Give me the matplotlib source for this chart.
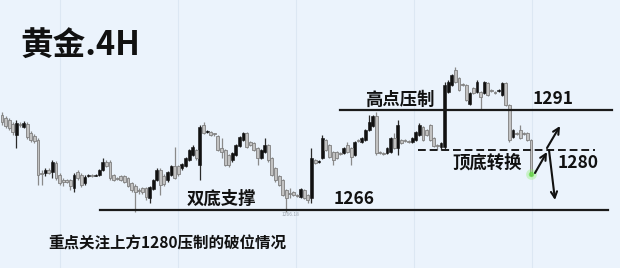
import matplotlib
matplotlib.use("Agg")
import matplotlib.pyplot as plt
import numpy as np

plt.rcParams['font.family'] = ['Noto Sans CJK SC', 'DejaVu Sans']

# ---- data (gold 4H candles) ----
opens = [1289.75, 1289.0, 1288.5, 1287.5, 1284.75, 1287.5, 1286.75, 1287.5, 1285.25, 1284.5,
         1283.5, 1275.25, 1275.25, 1276.0, 1275.5, 1277.75, 1274.75, 1273.5, 1273.5, 1273.5,
         1271.5, 1275.5, 1274.75, 1272.75, 1274.5, 1274.75, 1274.5, 1274.75, 1276.0, 1278.0,
         1278.0, 1274.75, 1274.0, 1274.5, 1274.5, 1274.0, 1272.75, 1272.0, 1271.0, 1271.5,
         1271.5, 1269.0, 1271.25, 1273.5, 1276.0, 1274.5, 1273.5, 1274.75, 1277.0, 1277.0,
         1276.5, 1277.0, 1278.5, 1279.75, 1281.0, 1277.25, 1287.25, 1285.5, 1285.5, 1285.0,
         1284.5, 1281.5, 1281.0, 1279.75, 1278.5, 1279.75, 1282.0, 1283.5, 1285.25, 1283.0,
         1282.75, 1281.5, 1279.0, 1280.5, 1282.25, 1279.0, 1276.5, 1274.5, 1273.5, 1271.0,
         1270.25, 1270.5, 1269.75, 1269.25, 1271.0, 1269.75, 1269.0, 1278.5, 1278.0, 1279.0,
         1283.5, 1282.25, 1280.5, 1280.5, 1280.25, 1280.25, 1282.25, 1281.5, 1279.75, 1283.5,
         1283.0, 1283.5, 1286.0, 1287.0, 1289.5, 1280.5, 1280.25, 1280.25, 1280.5, 1284.0,
         1281.5, 1283.5, 1283.5, 1283.25, 1283.0, 1283.5, 1284.75, 1286.75, 1286.0, 1287.25,
         1284.0, 1282.25, 1281.75, 1281.75, 1295.5, 1297.25, 1301.0, 1299.0, 1297.5, 1297.25,
         1292.5, 1296.5, 1295.5, 1295.5, 1295.25, 1297.75, 1296.0, 1295.5, 1295.75, 1294.75,
         1297.75, 1292.25, 1284.25, 1285.25, 1286.0, 1285.25, 1285.25, 1283.5]
closes = [1288.0, 1287.0, 1286.5, 1285.5, 1287.75, 1287.25, 1287.75, 1284.25, 1283.5, 1283.25,
          1274.75, 1275.0, 1276.0, 1275.25, 1278.0, 1274.0, 1272.75, 1273.0, 1273.0, 1272.0,
          1274.75, 1274.0, 1272.25, 1274.25, 1274.75, 1274.5, 1274.75, 1276.0, 1278.0, 1277.0,
          1274.0, 1273.5, 1273.75, 1273.5, 1273.0, 1272.0, 1271.0, 1270.5, 1270.75, 1270.5,
          1269.25, 1271.75, 1273.5, 1276.0, 1272.25, 1272.5, 1275.5, 1277.0, 1274.0, 1275.0,
          1277.5, 1279.0, 1281.0, 1281.75, 1279.0, 1286.75, 1285.25, 1285.75, 1284.75, 1284.9,
          1281.0, 1280.5, 1277.25, 1277.25, 1280.25, 1282.25, 1284.25, 1285.25, 1281.75, 1282.25,
          1281.0, 1279.0, 1281.0, 1282.25, 1278.5, 1274.75, 1273.5, 1272.25, 1269.75, 1269.0,
          1270.0, 1269.75, 1269.5, 1271.25, 1269.0, 1268.5, 1279.0, 1277.75, 1278.25, 1284.0,
          1281.0, 1279.25, 1278.5, 1279.0, 1280.0, 1281.5, 1280.5, 1279.25, 1283.0, 1283.25,
          1284.0, 1286.0, 1288.0, 1289.5, 1280.25, 1280.25, 1280.0, 1281.5, 1284.0, 1281.5,
          1287.25, 1282.75, 1283.25, 1283.0, 1284.0, 1285.5, 1287.25, 1283.5, 1284.75, 1283.5,
          1282.0, 1282.0, 1282.75, 1297.25, 1298.0, 1299.75, 1298.0, 1296.0, 1297.25, 1293.5,
          1295.25, 1295.25, 1298.0, 1294.25, 1298.0, 1294.75, 1295.75, 1295.25, 1296.0, 1297.75,
          1292.25, 1283.5, 1286.0, 1285.0, 1284.0, 1285.0, 1283.5, 1274.75]
highs = [1290.5, 1289.5, 1289.0, 1288.0, 1288.5, 1288.0, 1288.25, 1288.0, 1285.75, 1285.0,
         1284.0, 1276.0, 1276.5, 1276.5, 1278.5, 1278.25, 1275.25, 1274.0, 1273.75, 1273.75,
         1275.25, 1276.0, 1275.25, 1274.75, 1275.0, 1275.0, 1275.0, 1276.25, 1279.0, 1278.5,
         1278.5, 1275.0, 1274.25, 1274.75, 1274.75, 1274.25, 1273.0, 1272.5, 1271.5, 1271.75,
         1271.75, 1272.0, 1273.75, 1276.5, 1276.5, 1275.0, 1275.75, 1277.25, 1281.75, 1277.25,
         1277.75, 1279.25, 1281.25, 1282.25, 1281.25, 1287.25, 1288.0, 1286.0, 1285.75, 1285.25,
         1284.75, 1284.0, 1281.25, 1280.0, 1280.5, 1282.5, 1284.5, 1285.5, 1285.5, 1283.25,
         1283.0, 1281.75, 1281.25, 1284.0, 1282.5, 1279.25, 1276.75, 1274.75, 1273.75, 1271.25,
         1271.5, 1270.75, 1270.0, 1271.5, 1271.25, 1270.0, 1281.5, 1278.75, 1278.5, 1284.75,
         1283.75, 1282.5, 1280.75, 1280.75, 1280.5, 1281.75, 1283.0, 1281.75, 1283.25, 1283.75,
         1284.25, 1286.25, 1289.75, 1289.75, 1290.5, 1280.75, 1280.5, 1281.75, 1284.25, 1285.25,
         1288.5, 1283.75, 1283.75, 1283.5, 1284.25, 1285.75, 1287.75, 1287.0, 1286.25, 1287.5,
         1284.25, 1282.5, 1283.0, 1298.0, 1298.5, 1300.0, 1301.75, 1299.25, 1297.75, 1297.5,
         1295.5, 1296.75, 1298.5, 1295.75, 1298.25, 1298.0, 1296.25, 1295.75, 1296.25, 1298.0,
         1298.0, 1292.5, 1286.25, 1285.5, 1287.25, 1285.5, 1285.5, 1283.75]
lows = [1287.25, 1286.5, 1286.0, 1284.75, 1281.5, 1286.75, 1286.5, 1283.75, 1283.0, 1282.75,
        1272.25, 1272.25, 1274.5, 1275.0, 1274.0, 1273.5, 1272.25, 1272.0, 1272.75, 1271.0,
        1270.5, 1273.5, 1271.75, 1272.25, 1274.25, 1274.25, 1274.5, 1274.5, 1275.75, 1276.75,
        1273.5, 1273.25, 1273.5, 1273.25, 1272.75, 1271.75, 1270.5, 1265.5, 1270.0, 1270.0,
        1268.5, 1267.75, 1271.0, 1273.25, 1269.75, 1272.0, 1273.0, 1274.5, 1273.75, 1274.5,
        1276.0, 1276.75, 1278.25, 1279.5, 1278.5, 1273.5, 1285.0, 1285.25, 1284.5, 1284.5,
        1280.75, 1279.0, 1277.0, 1276.75, 1278.0, 1279.5, 1281.75, 1283.25, 1281.5, 1282.0,
        1280.75, 1277.25, 1278.75, 1280.25, 1278.0, 1274.5, 1273.0, 1272.0, 1269.5, 1265.5,
        1269.0, 1269.5, 1269.25, 1269.0, 1268.75, 1267.75, 1267.75, 1277.5, 1277.75, 1278.75,
        1280.75, 1279.0, 1277.25, 1278.75, 1279.75, 1280.0, 1280.25, 1277.25, 1279.5, 1283.0,
        1282.75, 1283.25, 1285.75, 1286.75, 1279.75, 1280.0, 1279.75, 1280.0, 1280.25, 1281.25,
        1279.75, 1282.5, 1283.0, 1282.75, 1282.75, 1283.25, 1284.5, 1283.25, 1284.5, 1283.25,
        1281.75, 1281.0, 1281.0, 1281.0, 1295.25, 1297.0, 1297.75, 1295.75, 1297.0, 1293.25,
        1292.25, 1295.0, 1295.25, 1291.0, 1295.0, 1294.5, 1295.5, 1295.0, 1295.5, 1294.5,
        1292.0, 1283.0, 1284.0, 1284.75, 1283.75, 1284.75, 1283.25, 1274.5]

support_level = 1266      # 双底支撑 1266
resistance_level = 1291   # 高点压制 1291
flip_level = 1281         # 顶底转换 1280 (dashed)

title_text = "黄金.4H"
label_high = "高点压制"
label_high_val = "1291"
label_flip = "顶底转换"
label_flip_val = "1280"
label_support = "双底支撑"
label_support_val = "1266"
low_price_tag = "1266.18"
note_text = "重点关注上方1280压制的破位情况"

# ---- layout ----
W, H = 620, 268
bg = '#ebf3fc'
fig = plt.figure(figsize=(W / 100, H / 100), dpi=100)
fig.patch.set_facecolor(bg)
ax = fig.add_axes([0, 0, 1, 1])
ax.set_facecolor(bg)
for s in ax.spines.values():
    s.set_visible(False)
ax.set_xticks([])
ax.set_yticks([])

n = len(opens)
x0px, x1px = 2.0, 531.0
step = (x1px - x0px) / (n - 1)
ax.set_xlim(-x0px / step, (W - x0px) / step)
ax.set_ylim(1251.5, 1318.5)

# faint vertical grid
for gx in [60, 178, 296, 414, 532]:
    ax.axvline((gx - x0px) / step, color='#dce7f3', lw=0.8, zorder=0)

idx = np.arange(n)
o = np.array(opens); c = np.array(closes); h = np.array(highs); l = np.array(lows)
bull = c >= o
bear_face, bear_edge = '#c2c2c2', '#7f7f7f'
bull_face = '#111111'

ax.vlines(idx[bull], l[bull], h[bull], color='#2a2a2a', lw=0.9, zorder=2)
ax.vlines(idx[~bull], l[~bull], h[~bull], color='#8a8a8a', lw=0.9, zorder=2)
body_lo = np.minimum(o, c)
body_h = np.maximum(np.abs(c - o), 0.35)
ax.bar(idx[bull], body_h[bull], bottom=body_lo[bull], width=0.8,
       color=bull_face, edgecolor=bull_face, lw=0.4, zorder=3)
ax.bar(idx[~bull], body_h[~bull], bottom=body_lo[~bull], width=0.8,
       color=bear_face, edgecolor=bear_edge, lw=0.6, zorder=3)

# level lines
ax.axhline(support_level, xmin=100 / W, xmax=608 / W, color='#1a1a1a', lw=1.6, zorder=4)
ax.axhline(resistance_level, xmin=340 / W, xmax=612 / W, color='#1a1a1a', lw=1.6, zorder=4)
ax.axhline(flip_level, xmin=418 / W, xmax=595 / W, color='#1a1a1a', lw=1.4,
           linestyle=(0, (4, 2)), zorder=4)

# texts
def fx(p):
    return p / W

def fy(p):
    return 1 - p / H

fig.text(fx(20), fy(45), title_text, fontsize=23.5, fontweight='bold', color='#111111',
         va='center', ha='left')
kw = dict(fontsize=12.5, fontweight='bold', color='#111111', va='center', ha='left')
fig.text(fx(365), fy(100), label_high, **kw)
fig.text(fx(533), fy(99), label_high_val, **kw)
fig.text(fx(452), fy(163), label_flip, **kw)
fig.text(fx(558), fy(163), label_flip_val, **kw)
fig.text(fx(187), fy(199), label_support, **kw)
fig.text(fx(334), fy(199), label_support_val, **kw)
fig.text(fx(282), fy(215), low_price_tag, fontsize=3.5, color='#9aa3ad', va='center', ha='left')
fig.text(fx(48), fy(244), note_text, fontsize=11.2, fontweight='bold', color='#111111',
         va='center', ha='left')

# green glow at the last candle's low
ax.scatter([n - 1], [l[-1] + 0.5], s=60, color='#8cf06a', alpha=0.35, zorder=5, lw=0)
ax.scatter([n - 1], [l[-1] + 0.5], s=15, color='#5fdc3c', alpha=0.7, zorder=5, lw=0)

# arrows
def arrow(p0, p1):
    ax.annotate('', xy=(fx(p1[0]), fy(p1[1])), xytext=(fx(p0[0]), fy(p0[1])),
                xycoords='figure fraction', textcoords='figure fraction',
                arrowprops=dict(arrowstyle='->', color='#111111', lw=1.5,
                                mutation_scale=11, shrinkA=0, shrinkB=0), zorder=6)

arrow((547, 148), (560, 126))
arrow((535, 173), (547, 152))
arrow((549, 150), (555, 200))

fig.savefig('out.png', dpi=100, facecolor=bg)
